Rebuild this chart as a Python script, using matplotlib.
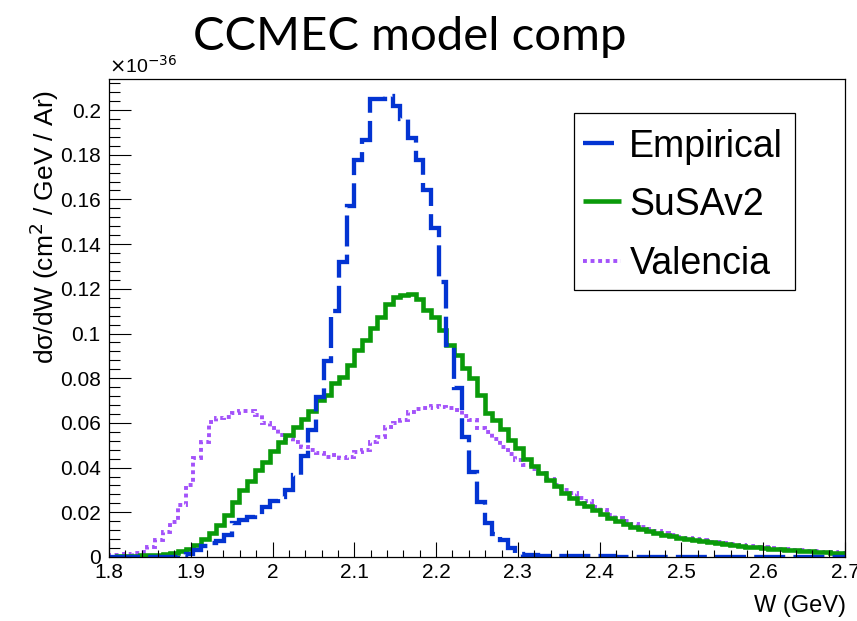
import numpy as np
import matplotlib
matplotlib.use("Agg")
import matplotlib.pyplot as plt
from matplotlib.lines import Line2D
from matplotlib.patches import Rectangle
from matplotlib.ticker import MultipleLocator

# W binning: 96 bins between 1.8 and 2.7 GeV
w_edges = np.linspace(1.8, 2.7, 97)

# dsigma/dW in units of 1e-36 cm^2 / GeV / Ar
empirical = [
    0.0002, 0.0002, 0.0002, 0.0002, 0.0002, 0.0002, 0.0002, 0.0002, 0.0002, 0.0007,
    0.0015, 0.0030, 0.0050, 0.0062, 0.0072, 0.0100, 0.0151, 0.0167, 0.0178, 0.0190,
    0.0225, 0.0250, 0.0270, 0.0300, 0.0366, 0.0452, 0.0570, 0.0717, 0.0878, 0.1100,
    0.1321, 0.1572, 0.1776, 0.1866, 0.2049, 0.2049, 0.2064, 0.2019, 0.1960, 0.1873,
    0.1776, 0.1642, 0.1470, 0.1230, 0.0949, 0.0755, 0.0538, 0.0382, 0.0247, 0.0151,
    0.0105, 0.0076, 0.0039, 0.0015, 0.0011, 0.0008, 0.0006, 0.0005, 0.0004, 0.0003,
    0.0003, 0.0003, 0.0003, 0.0003, 0.0003, 0.0003, 0.0002, 0.0002, 0.0002, 0.0002,
    0.0002, 0.0002, 0.0002, 0.0002, 0.0002, 0.0002, 0.0002, 0.0002, 0.0001, 0.0001,
    0.0001, 0.0001, 0.0001, 0.0001, 0.0001, 0.0001, 0.0001, 0.0001, 0.0001, 0.0001,
    0.0001, 0.0001, 0.0001, 0.0001, 0.0001, 0.0001,
]
susav2 = [
    0.0002, 0.0003, 0.0004, 0.0005, 0.0007, 0.0009, 0.0011, 0.0014, 0.0020, 0.0026,
    0.0034, 0.0054, 0.0080, 0.0107, 0.0143, 0.0188, 0.0247, 0.0300, 0.0340, 0.0390,
    0.0427, 0.0476, 0.0513, 0.0548, 0.0583, 0.0616, 0.0655, 0.0702, 0.0725, 0.0777,
    0.0807, 0.0859, 0.0926, 0.0971, 0.1023, 0.1075, 0.1132, 0.1165, 0.1172, 0.1176,
    0.1153, 0.1105, 0.1075, 0.1016, 0.0949, 0.0904, 0.0844, 0.0800, 0.0725, 0.0645,
    0.0615, 0.0572, 0.0523, 0.0486, 0.0437, 0.0408, 0.0378, 0.0345, 0.0318, 0.0288,
    0.0266, 0.0243, 0.0229, 0.0210, 0.0192, 0.0176, 0.0160, 0.0146, 0.0135, 0.0125,
    0.0117, 0.0109, 0.0100, 0.0093, 0.0086, 0.0080, 0.0075, 0.0070, 0.0065, 0.0061,
    0.0057, 0.0053, 0.0050, 0.0046, 0.0043, 0.0040, 0.0037, 0.0034, 0.0032, 0.0029,
    0.0027, 0.0025, 0.0023, 0.0021, 0.0019, 0.0017,
]
valencia = [
    0.0010, 0.0011, 0.0013, 0.0016, 0.0024, 0.0046, 0.0076, 0.0113, 0.0158, 0.0233,
    0.0322, 0.0442, 0.0516, 0.0603, 0.0620, 0.0628, 0.0643, 0.0655, 0.0655, 0.0635,
    0.0598, 0.0575, 0.0545, 0.0527, 0.0516, 0.0494, 0.0480, 0.0467, 0.0449, 0.0456,
    0.0441, 0.0447, 0.0470, 0.0480, 0.0516, 0.0538, 0.0583, 0.0598, 0.0613, 0.0650,
    0.0660, 0.0665, 0.0676, 0.0673, 0.0665, 0.0657, 0.0631, 0.0613, 0.0576, 0.0560,
    0.0530, 0.0490, 0.0460, 0.0435, 0.0412, 0.0395, 0.0374, 0.0350, 0.0322, 0.0300,
    0.0285, 0.0265, 0.0250, 0.0225, 0.0210, 0.0190, 0.0175, 0.0160, 0.0148, 0.0136,
    0.0126, 0.0117, 0.0109, 0.0098, 0.0091, 0.0085, 0.0079, 0.0074, 0.0069, 0.0065,
    0.0061, 0.0057, 0.0053, 0.0049, 0.0046, 0.0043, 0.0040, 0.0037, 0.0034, 0.0031,
    0.0029, 0.0027, 0.0025, 0.0023, 0.0021, 0.0019,
]

labels = ["Empirical", "SuSAv2", "Valencia"]
colors = ["#0334d2", "#0a9a0a", "#a352fa"]

plt.rcParams["font.family"] = ["Liberation Sans", "DejaVu Sans"]

fig = plt.figure(figsize=(8.57, 6.21), dpi=100)
ax = fig.add_axes([0.1272, 0.1031, 0.8588, 0.7697])

# drawn back to front: Valencia, SuSAv2, Empirical
lw_dot, lw_solid, lw_dash = 2.8, 3.3, 3.1
dot_style = (0, (1.0, 0.95))
dash_style = (0, (7.2, 1.9))
ax.stairs(valencia, w_edges, color=colors[2], lw=lw_dot, linestyle=dot_style)
ax.stairs(susav2, w_edges, color=colors[1], lw=lw_solid)
ax.stairs(empirical, w_edges, color=colors[0], lw=lw_dash, linestyle=dash_style)

ax.set_xlim(1.8, 2.7)
ax.set_ylim(0, 0.2139)

ax.xaxis.set_minor_locator(MultipleLocator(0.02))
ax.yaxis.set_minor_locator(MultipleLocator(0.004))
ax.set_xticks(np.arange(1.8, 2.71, 0.1))
ax.set_xticklabels(["1.8", "1.9", "2", "2.1", "2.2", "2.3", "2.4", "2.5", "2.6", "2.7"])
ax.set_yticks(np.arange(0, 0.201, 0.02))
ax.set_yticklabels(["0", "0.02", "0.04", "0.06", "0.08", "0.1", "0.12",
                    "0.14", "0.16", "0.18", "0.2"])

ax.tick_params(axis="both", which="both", direction="in", width=0.8,
               labelsize=15, top=False, right=False)
ax.tick_params(axis="y", which="major", length=15.6, pad=6)
ax.tick_params(axis="y", which="minor", length=7.7)
ax.tick_params(axis="x", which="major", length=10.5, pad=4)
ax.tick_params(axis="x", which="minor", length=5)
for sp in ax.spines.values():
    sp.set_linewidth(0.9)

fig.text(0.9875, 0.006, "W (GeV)", ha="right", va="bottom", fontsize=17)
fig.text(0.052, 0.855, "dσ/dW (cm$^{2}$ / GeV / Ar)", rotation=90,
         ha="center", va="top", fontsize=19)
ax.text(0.0, 1.004, r"$\times$10$^{-36}$", transform=ax.transAxes,
        ha="left", va="bottom", fontsize=14)

fig.text(0.478, 0.94, "CCMEC model comp", ha="center", va="center",
         fontsize=34, family=["Lato", "DejaVu Sans"])

# legend box
x0, x1 = 0.632, 0.932
y0, y1 = 0.559, 0.929
ax.add_patch(Rectangle((x0, y0), x1 - x0, y1 - y0, transform=ax.transAxes,
                       fill=True, facecolor="white", edgecolor="black",
                       lw=0.9, zorder=5))
row_y = [0.866, 0.745, 0.620]
text_base = [0.836, 0.715, 0.591]
styles = [(lw_dash, dash_style), (lw_solid, "-"), (lw_dot, dot_style)]
for lab, col, ry, tb, (lw, ls) in zip(labels, colors, row_y, text_base, styles):
    ax.add_line(Line2D([0.644, 0.695], [ry, ry], transform=ax.transAxes,
                       color=col, lw=lw, linestyle=ls, zorder=6,
                       solid_capstyle="butt", dash_capstyle="butt"))
    ax.text(0.707, tb, lab, transform=ax.transAxes, ha="left",
            va="baseline", fontsize=27, zorder=6)

fig.savefig("out.png", dpi=100)
